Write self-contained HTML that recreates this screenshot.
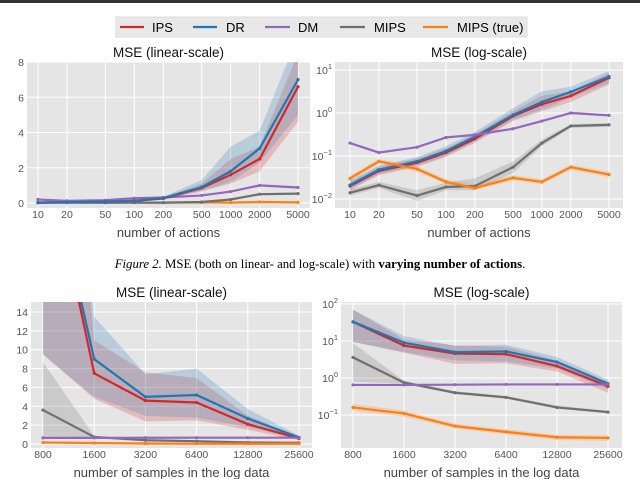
<!DOCTYPE html>
<html><head><meta charset="utf-8"><style>
body{margin:0;background:#fff;width:640px;height:479px;overflow:hidden;font-family:"Liberation Sans",sans-serif}
svg{display:block}
</style></head><body>
<svg id="fig" width="640" height="479" xmlns="http://www.w3.org/2000/svg" font-family="Liberation Sans, sans-serif">
<rect x="0" y="0" width="640" height="3" fill="#333"/>
<g>
<rect x="116" y="17" width="411" height="20" fill="#e8e8e8" stroke="#ddd"/>
<g><line x1="120" y1="27" x2="144" y2="27" stroke="#d62728" stroke-width="2.2"/><text x="152" y="32" font-size="13">IPS</text></g>
<g><line x1="193" y1="27" x2="217" y2="27" stroke="#1f77b4" stroke-width="2.2"/><text x="226" y="32" font-size="13">DR</text></g>
<g><line x1="265" y1="27" x2="290" y2="27" stroke="#9467bd" stroke-width="2.2"/><text x="298" y="32" font-size="13">DM</text></g>
<g><line x1="340" y1="27" x2="365" y2="27" stroke="#6f6f6f" stroke-width="2.2"/><text x="374" y="32" font-size="13">MIPS</text></g>
<g><line x1="423" y1="27" x2="448" y2="27" stroke="#ff7f0e" stroke-width="2.2"/><text x="457" y="32" font-size="13">MIPS (true)</text></g>
</g>
<text x="320" y="268" text-anchor="middle" font-size="12.8" font-family="Liberation Serif, serif"><tspan font-style="italic">Figure 2.</tspan> MSE (both on linear- and log-scale) with <tspan font-weight="bold">varying number of actions</tspan>.</text>
</svg>
<script>
// ---- data: number of actions ----
const actions = [10,20,50,100,200,500,1000,2000,5000];
const aIPS = [0.02,0.045,0.07,0.12,0.25,0.85,1.6,2.5,6.6];
const aIPSlo = [0.016,0.036,0.056,0.095,0.2,0.65,1.1,1.8,4.6];
const aIPShi = [0.025,0.056,0.088,0.15,0.32,1.1,2.5,3.2,8.5];
const aDR = [0.021,0.048,0.075,0.13,0.28,0.9,1.8,3.1,7.0];
const aDRlo = [0.017,0.038,0.06,0.1,0.22,0.7,1.2,2.3,5.0];
const aDRhi = [0.027,0.06,0.095,0.17,0.36,1.3,3.2,4.1,9.5];
const aDM = [0.2,0.12,0.16,0.27,0.31,0.43,0.65,1.0,0.88];
const aMIPS = [0.014,0.021,0.012,0.019,0.02,0.055,0.2,0.5,0.53];
const aMIPSlo = [0.012,0.018,0.009,0.016,0.016,0.04,0.17,0.45,0.48];
const aMIPShi = [0.017,0.025,0.016,0.024,0.03,0.075,0.24,0.55,0.58];
const aTrue = [0.03,0.075,0.05,0.025,0.018,0.031,0.025,0.055,0.037];
const aTruelo = [0.026,0.065,0.043,0.022,0.016,0.027,0.022,0.048,0.032];
const aTruehi = [0.035,0.086,0.058,0.029,0.021,0.036,0.029,0.063,0.043];
// ---- data: number of samples ----
const samples = [800,1600,3200,6400,12800,25600];
const sIPS = [33,7.5,4.6,4.4,2.1,0.6];
const sIPSlo = [9.5,4.8,2.4,2.5,1.5,0.4];
const sIPShi = [70,11,7.6,7.0,3.0,0.8];
const sDR = [33,9.0,5.0,5.2,2.7,0.7];
const sDRlo = [9.5,5.0,3.0,2.8,1.8,0.5];
const sDRhi = [70,13.5,7.4,8.0,3.7,0.9];
const sDM = [0.65,0.65,0.66,0.67,0.67,0.67];
const sMIPS = [3.6,0.75,0.4,0.3,0.16,0.12];
const sMIPSlo = [0.8,0.7,0.37,0.28,0.15,0.11];
const sMIPShi = [8.7,0.85,0.44,0.33,0.18,0.13];
const sTrue = [0.16,0.11,0.05,0.035,0.025,0.024];
const sTruelo = [0.13,0.09,0.043,0.03,0.021,0.02];
const sTruehi = [0.2,0.13,0.058,0.041,0.029,0.028];
// tick labels
const actionTicks = ['10','20','50','100','200','500','1000','2000','5000'];
const sampleTicks = ['800','1600','3200','6400','12800','25600'];
const linTicksTop = [0,2,4,6,8];
const linTicksBot = [0,2,4,6,8,10,12,14];
const logTicksTopExp = [-2,-1,0,1];
const logTicksBotExp = [-1,0,1,2];

const NS='http://www.w3.org/2000/svg';
const svg=document.getElementById('fig');
function mk(tag,attrs,parent){const e=document.createElementNS(NS,tag);for(const k in attrs)e.setAttribute(k,attrs[k]);(parent||svg).appendChild(e);return e;}
const C={ips:'#d62728',dr:'#1f77b4',dm:'#9467bd',mips:'#6f6f6f',tru:'#ff7f0e'};
let clipN=0;
function panel(p){
  const g=mk('g',{});
  
  
  const bg=mk('rect',{x:p.x0,y:p.y0,width:p.x1-p.x0,height:p.y1-p.y0,fill:'#e5e5e5'},g);
  
  
  const xl=Math.log(p.xs[0]),xh=Math.log(p.xs[p.xs.length-1]);
  const X=v=>p.xa+(Math.log(v)-xl)/(xh-xl)*(p.xb-p.xa);
  const Y=p.log?(v=>p.ya+(Math.log10(v)-p.vlo)/(p.vhi-p.vlo)*(p.yb-p.ya)):(v=>p.ya+(v-p.vlo)/(p.vhi-p.vlo)*(p.yb-p.ya));
  p.xs.forEach((v,i)=>{
    const gl=mk('line',{x1:X(v),x2:X(v),y1:p.y0,y2:p.y1,stroke:'#fff','stroke-width':1},g);
    
    
    const t=mk('text',{x:X(v),y:p.y1+10,'font-size':10.5,fill:'#555','text-anchor':'middle'},g);
    t.textContent=p.xt[i];
    
    
  });
  p.yt.forEach(v=>{
    const yy=p.log?Y(Math.pow(10,v)):Y(v);
    const gl=mk('line',{x1:p.x0,x2:p.x1,y1:yy,y2:yy,stroke:'#fff','stroke-width':1},g);
    
    
    const t=mk('text',{x:p.x0-3,y:yy+4,'font-size':10.5,fill:'#555','text-anchor':'end'},g);
    if(p.log){t.textContent='10';const s=mk('tspan',{dy:-5,'font-size':7.5},t);s.textContent=String(v).replace('-','\u2212');}
    else t.textContent=String(v);
    
    
  });
  const cid='c'+(clipN++);
  const cp=mk('clipPath',{id:cid},g);mk('rect',{x:p.x0,y:p.y0,width:p.x1-p.x0,height:p.y1-p.y0},cp);
  const sg=mk('g',{'clip-path':'url(#'+cid+')'},g);
  p.series.forEach(s=>{
    if(s.lo){
      let d='';p.xs.forEach((v,i)=>{d+=(i?'L':'M')+X(v)+','+Y(s.hi[i]);});
      for(let i=p.xs.length-1;i>=0;i--)d+='L'+X(p.xs[i])+','+Y(s.lo[i]);
      const b=mk('path',{d:d+'Z',fill:s.c,'fill-opacity':0.22},sg);
      
      
    }
  });
  p.series.forEach(s=>{
    const pts=p.xs.map((v,i)=>X(v)+','+Y(s.v[i])).join(' ');
    const l=mk('polyline',{points:pts,fill:'none',stroke:s.c,'stroke-width':2.2},sg);
    
    
    p.xs.forEach((v,i)=>{
      const m=mk('circle',{cx:X(v),cy:Y(s.v[i]),r:1.6,fill:s.c},sg);
      
      
    });
  });
  const ti=mk('text',{x:(p.x0+p.x1)/2,y:p.y0-5,'font-size':13.5,'text-anchor':'middle',fill:'#111'},g);
  ti.textContent=p.title;
  
  
  const xlab=mk('text',{x:(p.x0+p.x1)/2,y:p.y1+29,'font-size':13,'text-anchor':'middle',fill:'#444'},g);
  xlab.textContent=p.xlabel;
  
  
}
function S(n,c,v,lo,hi){return {n:n,c:c,v:v,lo:lo,hi:hi};}
const topSeries=[S('mips-true',C.tru,aTrue,aTruelo,aTruehi),S('mips',C.mips,aMIPS,aMIPSlo,aMIPShi),S('dm',C.dm,aDM),S('ips',C.ips,aIPS,aIPSlo,aIPShi),S('dr',C.dr,aDR,aDRlo,aDRhi)];
const topSeriesLog=[S('ips',C.ips,aIPS,aIPSlo,aIPShi),S('dr',C.dr,aDR,aDRlo,aDRhi),S('dm',C.dm,aDM),S('mips',C.mips,aMIPS,aMIPSlo,aMIPShi),S('mips-true',C.tru,aTrue,aTruelo,aTruehi)];
const botSeries=[S('mips',C.mips,sMIPS,sMIPSlo,sMIPShi),S('ips',C.ips,sIPS,sIPSlo,sIPShi),S('dr',C.dr,sDR,sDRlo,sDRhi),S('dm',C.dm,sDM),S('mips-true',C.tru,sTrue,sTruelo,sTruehi)];
const botSeriesLog=[S('ips',C.ips,sIPS,sIPSlo,sIPShi),S('dr',C.dr,sDR,sDRlo,sDRhi),S('mips',C.mips,sMIPS,sMIPSlo,sMIPShi),S('dm',C.dm,sDM),S('mips-true',C.tru,sTrue,sTruelo,sTruehi)];
panel({name:'actions-linear-panel',title:'MSE (linear-scale)',xlabel:'number of actions',x0:27,x1:310,y0:62,y1:208,xa:38,xb:298,ya:203,yb:62,vlo:0,vhi:8,log:false,xs:actions,xt:actionTicks,yt:linTicksTop,series:topSeries});
panel({name:'actions-log-panel',title:'MSE (log-scale)',xlabel:'number of actions',x0:335,x1:623,y0:62,y1:208,xa:350,xb:609,ya:199,yb:70,vlo:-2,vhi:1,log:true,xs:actions,xt:actionTicks,yt:logTicksTopExp,series:topSeriesLog});
panel({name:'samples-linear-panel',title:'MSE (linear-scale)',xlabel:'number of samples in the log data',x0:31,x1:312,y0:302,y1:448,xa:43,xb:299,ya:444,yb:312,vlo:0,vhi:14,log:false,xs:samples,xt:sampleTicks,yt:linTicksBot,series:botSeries});
panel({name:'samples-log-panel',title:'MSE (log-scale)',xlabel:'number of samples in the log data',x0:341,x1:622,y0:302,y1:448,xa:353,xb:608,ya:415,yb:304,vlo:-1,vhi:2,log:true,xs:samples,xt:sampleTicks,yt:logTicksBotExp,series:botSeriesLog});
</script>
</body></html>
